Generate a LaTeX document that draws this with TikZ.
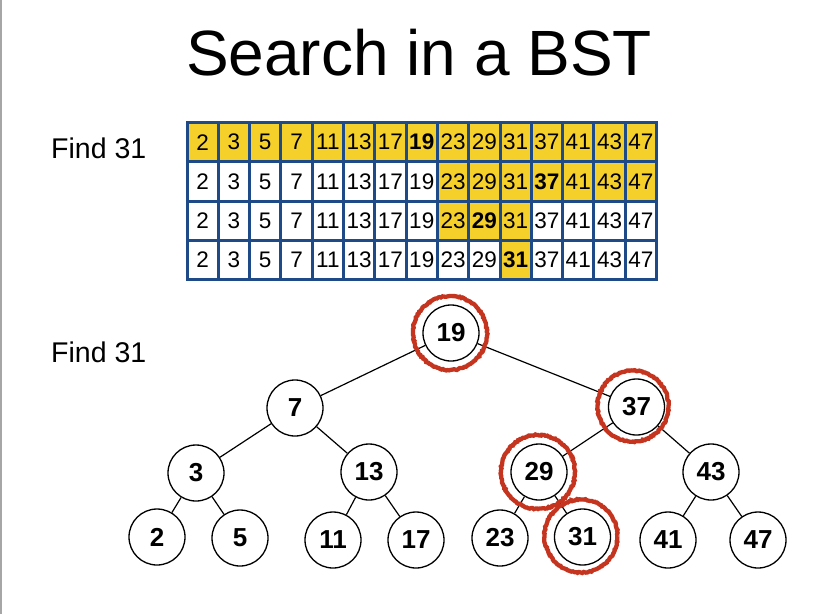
\documentclass[tikz,border=0pt]{standalone}
\usepackage{fontspec}
\setmainfont{Liberation Sans}
\usetikzlibrary{decorations.pathmorphing}
\definecolor{tblue}{RGB}{30,75,135}
\definecolor{tyellow}{RGB}{245,208,42}
\definecolor{ringred}{RGB}{196,52,30}
\begin{document}
\begin{tikzpicture}[x=1pt,y=-1pt,
  cell/.style={rectangle, draw=tblue, line width=3pt, minimum width=31.3pt,
    minimum height=39.3pt, inner sep=0pt, font=\fontsize{22.5}{22.5}\selectfont},
  tnode/.style={circle, draw, line width=1.3pt, minimum size=56pt, inner sep=0pt,
    font=\fontsize{26}{26}\selectfont\bfseries},
  edge/.style={line width=1.2pt},
  ring/.style={circle, draw=ringred, line width=4.3pt, inner sep=0pt,
    decorate, decoration={random steps, segment length=1.5pt, amplitude=0.6pt}},
  label/.style={anchor=base west, inner sep=0pt, font=\fontsize{28.5}{30}\selectfont}
]
\useasboundingbox (0,0) rectangle (821,614);
\fill[white] (0,0) rectangle (821,614);
\draw[gray!70, line width=2pt] (1,0) -- (1,614);

\node[anchor=base, inner sep=0pt, font=\fontsize{64}{70}\selectfont] (title) at (419,75) {Search in a BST};
\node[label] (find1) at (51,158) {Find 31};
\node[label] (find2) at (51,362) {Find 31};

% table
\foreach \r/\lo/\hi/\b in {1/1/15/8, 2/9/15/12, 3/9/11/10, 4/11/11/11} {
  \foreach \v [count=\c] in {2,3,5,7,11,13,17,19,23,29,31,37,41,43,47} {
    \def\cf{tyellow}
    \ifnum\c<\lo \def\cf{white}\fi
    \ifnum\c>\hi \def\cf{white}\fi
    \def\ff{}
    \ifnum\c=\b \def\ff{\bfseries}\fi
    \node[cell, fill=\cf] (c-\r-\c) at ({187+(\c-0.5)*31.3},{122.5+(\r-0.5)*39.3}) {\ff\v};
  }
}

% tree
\node[tnode] (n19) at (451,333) {19};
\node[tnode] (n7) at (295,408) {7};
\node[tnode] (n37) at (636.5,407) {37};
\node[tnode] (n3) at (196,473) {3};
\node[tnode] (n13) at (369,472) {13};
\node[tnode] (n29) at (539,472) {29};
\node[tnode] (n43) at (711,472) {43};
\node[tnode] (n2) at (157,537) {2};
\node[tnode] (n5) at (240,538) {5};
\node[tnode] (n11) at (333,540) {11};
\node[tnode] (n17) at (416,540) {17};
\node[tnode] (n23) at (500,538) {23};
\node[tnode] (n31) at (582.5,537) {31};
\node[tnode] (n41) at (668,540) {41};
\node[tnode] (n47) at (758,540) {47};

\draw[edge] (n19) -- (n7);
\draw[edge] (n19) -- (n37);
\draw[edge] (n7) -- (n3);
\draw[edge] (n7) -- (n13);
\draw[edge] (n37) -- (n29);
\draw[edge] (n37) -- (n43);
\draw[edge] (n3) -- (n2);
\draw[edge] (n3) -- (n5);
\draw[edge] (n13) -- (n11);
\draw[edge] (n13) -- (n17);
\draw[edge] (n29) -- (n23);
\draw[edge] (n29) -- (n31);
\draw[edge] (n43) -- (n41);
\draw[edge] (n43) -- (n47);

% red rings
\node[ring, minimum size=74pt] (r19) at (450,333) {};
\node[ring, minimum size=71pt] (r37) at (633,406) {};
\node[ring, minimum size=74pt] (r29) at (538,472) {};
\node[ring, minimum size=73pt] (r31) at (581,536) {};
\end{tikzpicture}
\end{document}
